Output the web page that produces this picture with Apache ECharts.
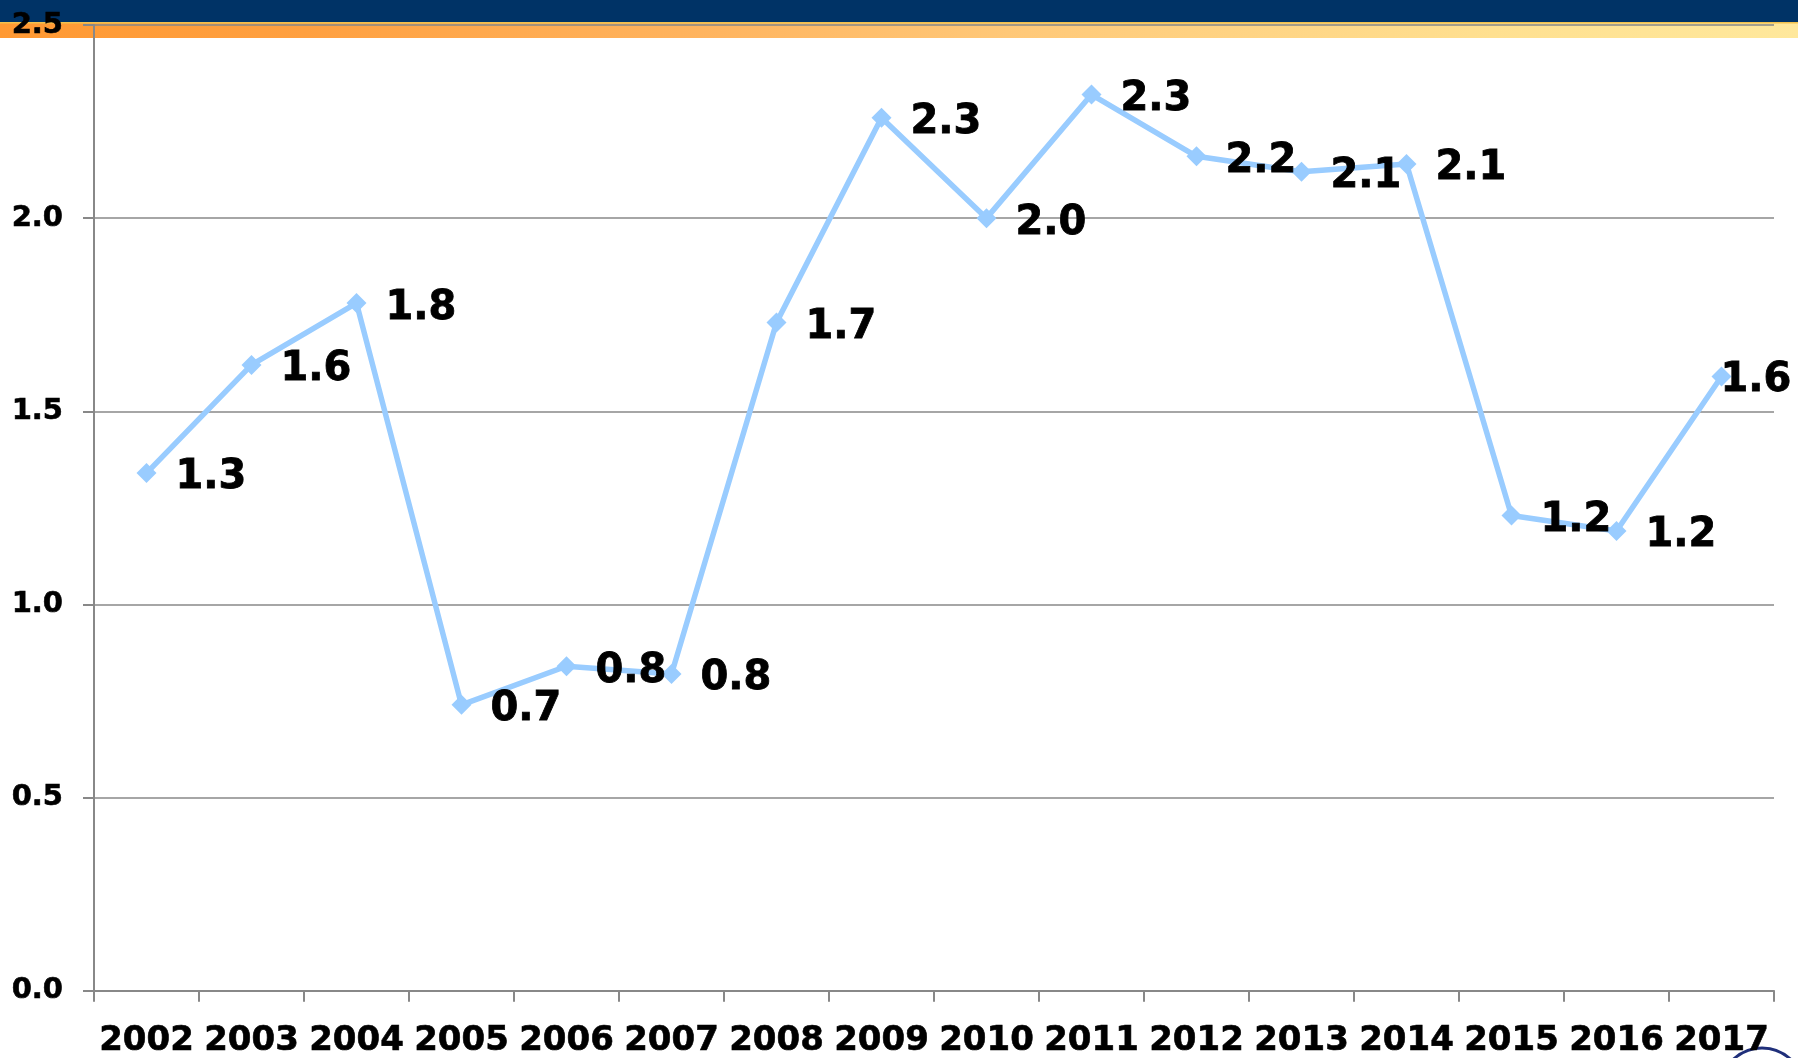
<!DOCTYPE html>
<html><head><meta charset="utf-8">
<script src="https://cdn.jsdelivr.net/npm/echarts@6/dist/echarts.min.js"></script>
<style>html,body{margin:0;padding:0;background:#fff;}#c{width:1798px;height:1058px;}</style>
</head><body><div id="c"></div>
<script>
const years = ['2002','2003','2004','2005','2006','2007','2008','2009','2010','2011','2012','2013','2014','2015','2016','2017'];
const values = [1.34,1.62,1.78,0.74,0.84,0.82,1.73,2.26,2.00,2.32,2.16,2.12,2.14,1.23,1.19,1.59];
const yTicks = [0,0.5,1.0,1.5,2.0,2.5];

const chart = echarts.init(document.getElementById('c'));
const FONT = 'DejaVu Sans';
const data = values.map((v, i) => {
  const d = { value: v };
  if (i === values.length - 1) d.label = { offset: [-30, 4] };
  return d;
});
chart.setOption({
  animation: false,
  backgroundColor: '#ffffff',
  graphic: {
    z: -10,
    elements: [
      { type: 'rect', z: -10, shape: { x: 0, y: 0, width: 1798, height: 22 }, style: { fill: '#003366' } },
      { type: 'rect', z: -10, shape: { x: 0, y: 22, width: 1798, height: 16 },
        style: { fill: new echarts.graphic.LinearGradient(0, 0, 1, 0, [
          { offset: 0, color: '#FF9933' },
          { offset: 0.17, color: '#FFA040' },
          { offset: 0.4, color: '#FFB560' },
          { offset: 0.56, color: '#FFC878' },
          { offset: 0.83, color: '#FFE090' },
          { offset: 1, color: '#FFE89C' }
        ]) } },
      { type: 'rect', z: -9, shape: { x: 0, y: 22, width: 1798, height: 1.5 }, style: { fill: '#F2C14E' } },
      { type: 'circle', z: -10, shape: { cx: 1762, cy: 1090, r: 42 }, style: { fill: 'none', stroke: '#1F2F7A', lineWidth: 3 } }
    ]
  },
  grid: { left: 94, right: 24, top: 25, bottom: 66, containLabel: false },
  xAxis: {
    type: 'category',
    data: years,
    boundaryGap: true,
    axisLine: { show: true, lineStyle: { color: '#888888', width: 2 } },
    axisTick: { show: true, alignWithLabel: false, length: 11, lineStyle: { color: '#888888', width: 2 } },
    axisLabel: { margin: 33, color: '#000', fontFamily: FONT, fontWeight: 'bold', fontSize: 34, interval: 0,
      textBorderColor: '#000', textBorderWidth: 0.6 },
    splitLine: { show: false }
  },
  yAxis: {
    type: 'value',
    min: 0, max: 2.5, interval: 0.5,
    axisLine: { show: true, lineStyle: { color: '#888888', width: 2 } },
    axisTick: { show: true, length: 11, lineStyle: { color: '#888888', width: 2 } },
    axisLabel: { margin: 31, color: '#000', fontFamily: FONT, fontWeight: 'bold', fontSize: 29,
      textBorderColor: '#000', textBorderWidth: 0.6,
      formatter: v => v.toFixed(1) },
    splitLine: { show: true, lineStyle: { color: '#888888', width: 1.5 } }
  },
  series: [{
    type: 'line',
    data: data,
    symbol: 'diamond',
    symbolSize: 20,
    itemStyle: { color: '#99CCFF' },
    lineStyle: { color: '#99CCFF', width: 5.5 },
    label: {
      show: true,
      position: 'right',
      distance: 19,
      offset: [0, 5],
      color: '#000',
      fontFamily: FONT,
      fontWeight: 'bold',
      fontSize: 40,
      textBorderColor: '#000',
      textBorderWidth: 0.8,
      formatter: p => p.value.toFixed(1)
    },
    z: 5
  }]
});
</script></body></html>
